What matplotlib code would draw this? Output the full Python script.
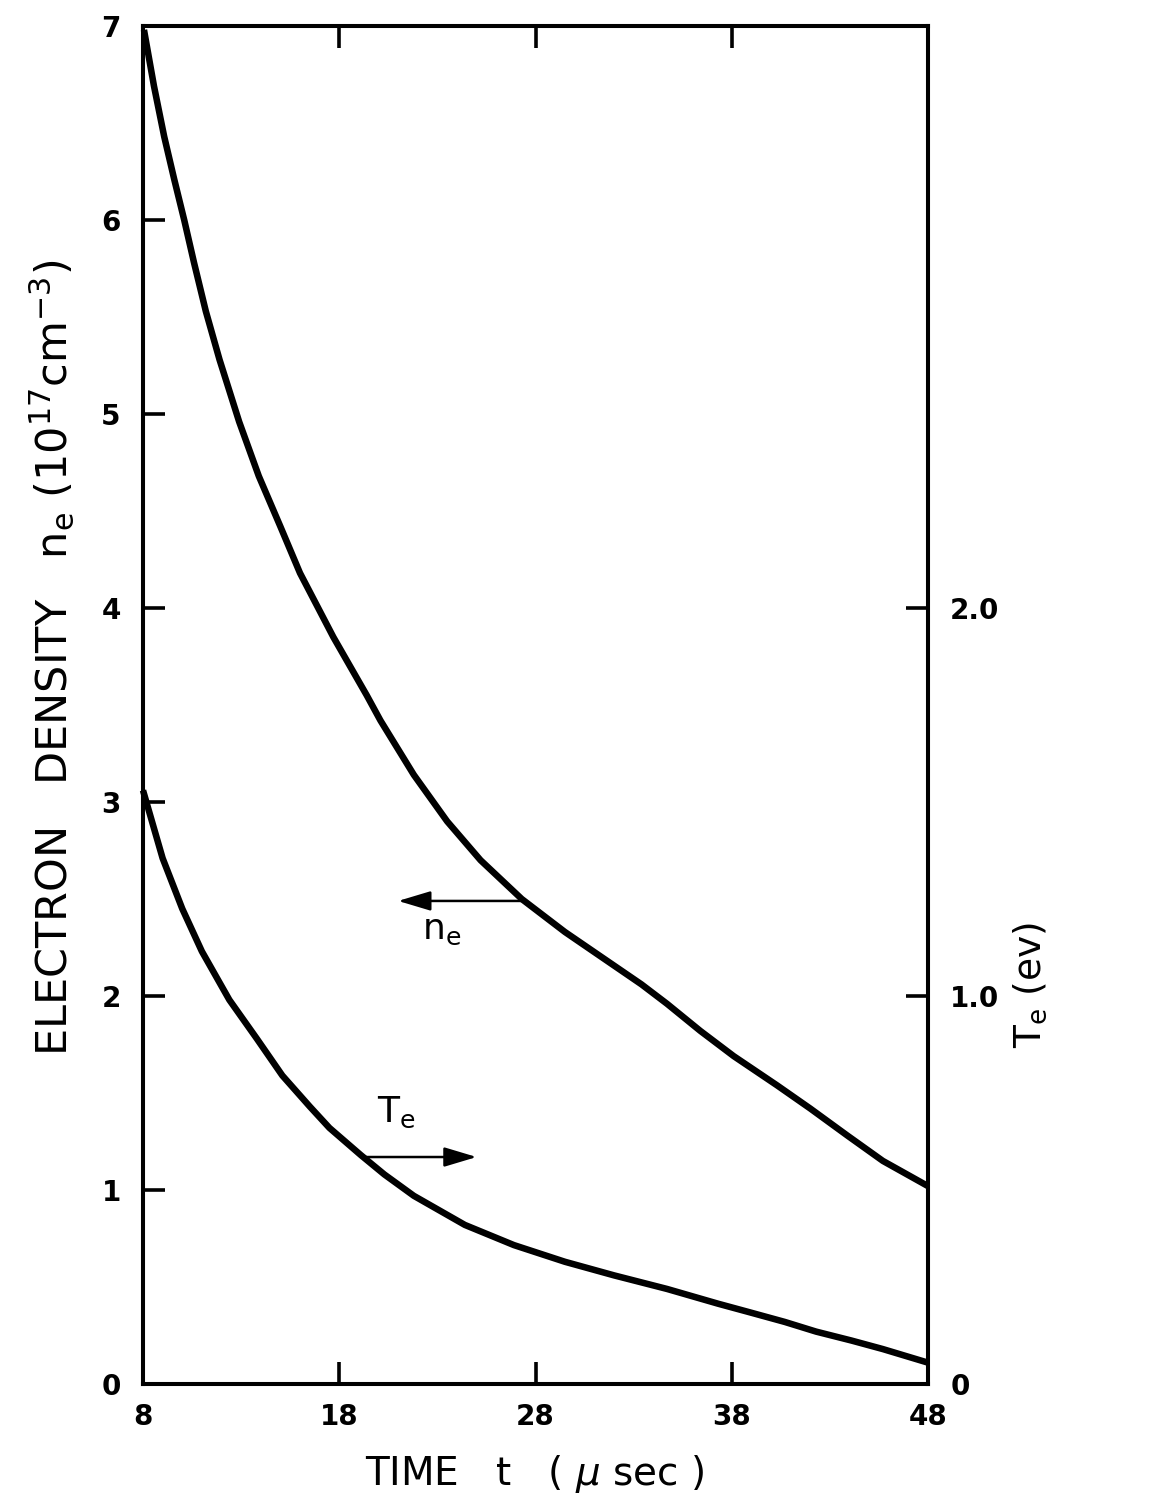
import numpy as np
import matplotlib
matplotlib.use("Agg")
import matplotlib.pyplot as plt

# Electron density n_e (1e17 cm^-3)
t_ne = [8.05, 8.56, 9.08, 9.59, 10.1, 10.6, 11.2, 11.9, 12.9, 13.9, 15.0,
        16.0, 17.7, 19.4, 20.1, 21.8, 23.5, 25.2, 27.3, 29.5, 32.1, 33.4,
        34.7, 36.4, 38.1, 40.3, 42.0, 43.9, 45.7, 48.0]
ne = [6.98, 6.69, 6.43, 6.21, 6.0, 5.78, 5.53, 5.28, 4.96, 4.68, 4.42,
      4.18, 3.85, 3.55, 3.42, 3.14, 2.90, 2.70, 2.50, 2.33, 2.15, 2.06,
      1.96, 1.82, 1.69, 1.54, 1.42, 1.28, 1.15, 1.02]

# Electron temperature T_e (eV) (right axis)
t_te = [8.0, 9.0, 10.0, 11.0, 12.4, 13.8, 15.1, 16.5, 17.5, 19.1, 20.3,
        21.8, 24.4, 26.9, 29.5, 32.0, 34.7, 37.3, 38.9, 40.7, 42.3, 44.1,
        45.7, 48.0]
te = [1.53, 1.355, 1.225, 1.115, 0.99, 0.89, 0.795, 0.715, 0.66, 0.59,
      0.54, 0.485, 0.41, 0.358, 0.315, 0.28, 0.245, 0.207, 0.185, 0.16,
      0.135, 0.112, 0.09, 0.055]

x_ticks = [8, 18, 28, 38, 48]
left_ticks = [0, 1, 2, 3, 4, 5, 6, 7]
right_ticks = [0, 1, 2]
right_labels = ["0", "1.0", "2.0"]

W, H = 1151, 1508
fig = plt.figure(figsize=(W / 100, H / 100), dpi=100)
ax = fig.add_axes([143 / W, 1 - 1384 / H, (928 - 143) / W, (1384 - 26) / H])
ax2 = ax.twinx()

lw_curve = 4.7
ax.plot(t_ne, ne, color="black", lw=lw_curve, solid_joinstyle="round",
        solid_capstyle="butt", clip_on=False)
ax2.plot(t_te, te, color="black", lw=lw_curve, solid_joinstyle="round",
         solid_capstyle="butt", clip_on=False)

ax.set_xlim(8, 48)
ax.set_ylim(0, 7)
ax2.set_ylim(0, 3.5)

for a in (ax, ax2):
    for s in a.spines.values():
        s.set_linewidth(2.9)

tick_font = dict(fontsize=20, fontweight="bold", family="DejaVu Sans")

ax.set_xticks(x_ticks)
ax.set_xticklabels([str(v) for v in x_ticks], **tick_font)
ax.set_yticks(left_ticks)
ax.set_yticklabels([str(v) for v in left_ticks], **tick_font)
ax.tick_params(axis="both", direction="in", length=16, width=2.6,
               top=True, right=False, pad=14)
ax.tick_params(axis="y", pad=16)

ax2.set_yticks(right_ticks)
ax2.set_yticklabels(right_labels, **tick_font)
ax2.tick_params(axis="y", direction="in", length=16, width=2.6, pad=16)

# curve annotations
arrow_style = dict(arrowstyle="-|>,head_length=1.0,head_width=0.3",
                   color="black", lw=1.8, mutation_scale=20,
                   shrinkA=0, shrinkB=0)
ax.annotate("", xy=(21.0, 2.49), xytext=(27.3, 2.49), arrowprops=arrow_style)
ax.text(23.2, 2.34, "n$_\\mathregular{e}$", fontsize=26, ha="center", va="center")
ax.annotate("", xy=(25.0, 1.17), xytext=(19.1, 1.17), arrowprops=arrow_style)
ax.text(20.9, 1.40, "T$_\\mathregular{e}$", fontsize=26, ha="center", va="center")

# axis titles
fig.text(52 / W, 1 - 658 / H,
         "ELECTRON   DENSITY   n$_\\mathregular{e}$ (10$^\\mathregular{17}$cm$^\\mathregular{-3}$)",
         rotation=90, ha="center", va="center", fontsize=31)
fig.text(1030 / W, 1 - 985 / H, "T$_\\mathregular{e}$ (ev)",
         rotation=90, ha="center", va="center", fontsize=27)
fig.text(535 / W, 1 - 1474 / H, "TIME   t   ( $\\mu$ sec )",
         ha="center", va="center", fontsize=28)

fig.savefig("out.png", dpi=100, facecolor="white")
